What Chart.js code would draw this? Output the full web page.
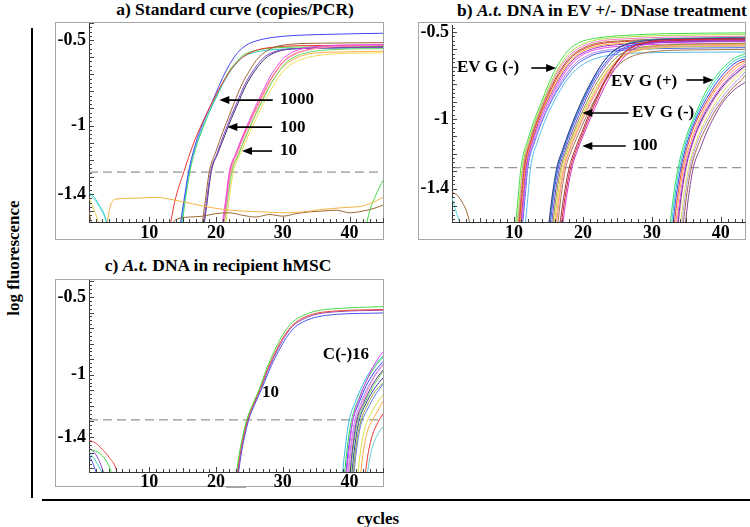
<!DOCTYPE html>
<html>
<head>
<meta charset="utf-8">
<script src="https://cdn.jsdelivr.net/npm/chart.js@4.4.1/dist/chart.umd.min.js"></script>
<style>
  body { margin: 0; width: 750px; height: 527px; background: #fff; position: relative; overflow: hidden;
         font-family: "Liberation Serif", "Times New Roman", serif; font-weight: bold; color: #000; }
  .frame { position: absolute; border: 1px solid #a6a6a6; box-sizing: border-box; }
  canvas { position: absolute; }
  .txt { position: absolute; white-space: nowrap; transform: translateX(-50%); line-height: 1; }
  .line { position: absolute; background: #000; }
</style>
</head>
<body>

<div class="txt" style="left:235px; top:1px; font-size:17.5px;">a) Standard curve (copies/PCR)</div>
<div class="txt" style="left:602px; top:2px; font-size:17.5px;">b) <i>A.t.</i> DNA in EV +/- DNase treatment</div>
<div class="txt" style="left:218px; top:257px; font-size:17.5px;">c) <i>A.t.</i> DNA in recipient hMSC</div>

<div class="txt" style="left:13px; top:258px; font-size:17px; transform:translate(-50%,-50%) rotate(-90deg);">log fluorescence</div>
<div class="line" style="left:31px; top:28px; width:2px; height:470px;"></div>
<div class="line" style="left:42px; top:499px; width:708px; height:2px;"></div>
<div class="txt" style="left:378px; top:510px; font-size:17px;">cycles</div>

<div class="frame" style="left:55px; top:22px; width:329px; height:218px;"></div>
<canvas id="chartA" width="329" height="218" style="left:55px; top:22px;"></canvas>

<div class="frame" style="left:418px; top:22px; width:328px; height:218px;"></div>
<canvas id="chartB" width="328" height="218" style="left:418px; top:22px;"></canvas>

<div class="frame" style="left:55px; top:279px; width:329px; height:208px;"></div>
<div style="position:absolute; left:226px; top:486px; width:20px; height:2px; background:#a6a6a6;"></div>
<canvas id="chartC" width="329" height="208" style="left:55px; top:279px;"></canvas>

<script>
// cycles shown on every panel
const xTicks = [10, 20, 30, 40];
const yTicks = [-0.5, -1, -1.4];

// ---- a) standard curve: [cycle, log fluorescence] ----
const a1000 = [
  [[13,-1.62],[13.8,-1.45],[15.2,-1.27],[16.5,-1.12],[18,-0.98],[19.5,-0.86],[21,-0.75],[22.5,-0.66],[24,-0.6],[26,-0.56],[29,-0.54],[34,-0.532],[45,-0.53]],
  [[14.5,-1.62],[15.2,-1.44],[15.9,-1.27],[17,-1.1],[18,-0.99],[19,-0.9],[20,-0.81],[21,-0.72],[22,-0.645],[23,-0.585],[24,-0.545],[25,-0.52],[27,-0.495],[30,-0.478],[35,-0.468],[45,-0.46]],
  [[14.7,-1.62],[15.3,-1.44],[16,-1.27],[17,-1.12],[18,-1.01],[19,-0.92],[20,-0.84],[21,-0.76],[22,-0.69],[23,-0.64],[24,-0.6],[26,-0.57],[29,-0.555],[35,-0.548],[45,-0.545]],
  [[14.8,-1.62],[15.4,-1.44],[16.1,-1.27],[17,-1.13],[18,-1.02],[19,-0.92],[20,-0.83],[21,-0.75],[22,-0.68],[23,-0.63],[24,-0.59],[26,-0.56],[29,-0.545],[35,-0.54],[45,-0.538]]
];
const a1000Colors = ['#ee3333', '#4444ee', '#33cccc', '#44dd44'];

const a100 = [
  [[17.8,-1.62],[18.4,-1.44],[19,-1.27],[20,-1.15],[21,-1.04],[22,-0.94],[23,-0.84],[24,-0.75],[25,-0.68],[26,-0.62],[27,-0.58],[28.5,-0.545],[31,-0.525],[36,-0.518],[45,-0.515]],
  [[18,-1.62],[18.6,-1.44],[19.2,-1.27],[20.2,-1.16],[21.2,-1.05],[22.2,-0.95],[23.2,-0.86],[24.2,-0.77],[25.2,-0.7],[26.2,-0.645],[27.2,-0.6],[29,-0.565],[32,-0.55],[38,-0.545],[45,-0.543]],
  [[18.1,-1.62],[18.7,-1.44],[19.3,-1.27],[20.3,-1.16],[21.3,-1.06],[22.3,-0.96],[23.3,-0.87],[24.3,-0.78],[25.3,-0.71],[26.3,-0.655],[27.3,-0.61],[29,-0.57],[32,-0.55],[38,-0.545],[45,-0.54]]
];
const a100Colors = ['#996633', '#8844cc', '#333366'];

const a10 = [
  [[20.8,-1.62],[21.4,-1.45],[22,-1.27],[23,-1.16],[24,-1.06],[25,-0.97],[26,-0.88],[27,-0.8],[28,-0.72],[29,-0.66],[30,-0.61],[31,-0.58],[33,-0.55],[36,-0.535],[45,-0.525]],
  [[21,-1.62],[21.6,-1.45],[22.2,-1.27],[23.2,-1.16],[24.2,-1.065],[25.2,-0.975],[26.2,-0.89],[27.2,-0.81],[28.2,-0.735],[29.2,-0.675],[30.2,-0.625],[31.5,-0.59],[33.5,-0.56],[37,-0.54],[45,-0.53]],
  [[20.9,-1.62],[21.5,-1.45],[22.1,-1.27],[23.1,-1.16],[24.1,-1.06],[25.1,-0.975],[26.1,-0.89],[27.1,-0.81],[28.1,-0.735],[29.1,-0.675],[30.1,-0.625],[31.3,-0.59],[33.3,-0.56],[37,-0.54],[45,-0.532]],
  [[21.1,-1.62],[21.7,-1.45],[22.4,-1.27],[23.4,-1.17],[24.4,-1.07],[25.4,-0.98],[26.4,-0.9],[27.4,-0.82],[28.4,-0.745],[29.4,-0.685],[30.4,-0.635],[31.7,-0.6],[34,-0.57],[38,-0.555],[45,-0.55]],
  [[21,-1.62],[21.6,-1.45],[22.3,-1.27],[23.3,-1.17],[24.3,-1.08],[25.3,-0.99],[26.3,-0.9],[27.3,-0.82],[28.3,-0.75],[29.3,-0.69],[30.5,-0.64],[32,-0.605],[34,-0.58],[38,-0.57],[45,-0.565]],
  [[21.3,-1.62],[21.9,-1.45],[22.6,-1.27],[23.6,-1.17],[24.6,-1.08],[25.6,-0.995],[26.6,-0.91],[27.6,-0.835],[28.6,-0.765],[29.6,-0.705],[30.8,-0.655],[32.3,-0.62],[34.5,-0.595],[38,-0.58],[45,-0.575]]
];
const a10Colors = ['#ee44ee', '#ff88cc', '#ff5533', '#66dd66', '#ffaa44', '#eedd55'];

const aBase = [
  [[3.6,-1.6],[4.2,-1.47],[5,-1.43],[8,-1.425],[11,-1.42],[13,-1.43],[15,-1.445],[18,-1.47],[21,-1.49],[24,-1.5],[27,-1.505],[30,-1.51],[33,-1.505],[36,-1.49],[39,-1.48],[42,-1.47],[44,-1.44],[45,-1.42]],
  [[13,-1.6],[14,-1.55],[16,-1.535],[18,-1.53],[20,-1.515],[22,-1.51],[24,-1.525],[26,-1.535],[28,-1.52],[30,-1.53],[32,-1.515],[34,-1.505],[36,-1.5],[38,-1.495],[40,-1.51],[42,-1.5],[44,-1.48],[45,-1.465]],
  [[42.3,-1.62],[43,-1.5],[44,-1.4],[45,-1.32]],
  [[1,-1.39],[1.8,-1.42],[2.6,-1.47],[3.3,-1.52],[3.9,-1.6]],
  [[1,-1.40],[1.8,-1.43],[2.6,-1.48],[3.3,-1.53],[3.8,-1.6]],
  [[1,-1.42],[1.6,-1.48],[2.2,-1.54],[2.6,-1.6]],
  [[1,-1.5],[1.3,-1.56],[1.6,-1.6]]
];
const aBaseColors = ['#f5b342', '#996633', '#44dd44', '#33cccc', '#66dddd', '#e6d34d', '#996633'];

// ---- b) EV +/- DNase ----
const bEarly = [
  [[10.2,-1.62],[10.6,-1.45],[11,-1.28],[12,-1.12],[13,-1.0],[14,-0.9],[15,-0.8],[16,-0.715],[17,-0.65],[18,-0.6],[19.5,-0.56],[22,-0.535],[26,-0.52],[32,-0.51],[45,-0.505]],
  [[10.4,-1.62],[10.8,-1.45],[11.2,-1.28],[12.2,-1.12],[13.2,-1.0],[14.2,-0.9],[15.2,-0.805],[16.2,-0.725],[17.2,-0.66],[18.2,-0.615],[19.7,-0.575],[22,-0.545],[26,-0.53],[32,-0.52],[45,-0.515]],
  [[10.5,-1.62],[10.9,-1.45],[11.3,-1.28],[12.3,-1.12],[13.3,-1.0],[14.3,-0.9],[15.3,-0.81],[16.3,-0.73],[17.3,-0.67],[18.3,-0.625],[19.8,-0.585],[22,-0.555],[26,-0.54],[32,-0.53],[45,-0.525]],
  [[10.6,-1.62],[11,-1.45],[11.4,-1.28],[12.4,-1.12],[13.4,-1.0],[14.4,-0.9],[15.4,-0.815],[16.4,-0.74],[17.4,-0.68],[18.4,-0.635],[19.9,-0.595],[22,-0.565],[26,-0.55],[32,-0.54],[45,-0.535]],
  [[10.7,-1.62],[11.1,-1.45],[11.5,-1.28],[12.5,-1.12],[13.5,-1.0],[14.5,-0.905],[15.5,-0.82],[16.5,-0.745],[17.5,-0.685],[18.5,-0.64],[20,-0.6],[22,-0.572],[26,-0.555],[32,-0.545],[45,-0.54]],
  [[10.8,-1.62],[11.2,-1.45],[11.6,-1.28],[12.6,-1.12],[13.6,-1.0],[14.6,-0.91],[15.6,-0.83],[16.6,-0.755],[17.6,-0.695],[18.6,-0.65],[20,-0.61],[22,-0.582],[26,-0.565],[32,-0.555],[45,-0.55]],
  [[10.9,-1.62],[11.3,-1.45],[11.7,-1.28],[12.7,-1.12],[13.7,-1.0],[14.7,-0.91],[15.7,-0.83],[16.7,-0.76],[17.7,-0.7],[18.7,-0.655],[20,-0.62],[22,-0.59],[26,-0.57],[32,-0.56],[45,-0.555]],
  [[11,-1.62],[11.4,-1.45],[11.8,-1.28],[12.8,-1.12],[13.8,-1.01],[14.8,-0.92],[15.8,-0.84],[16.8,-0.77],[17.8,-0.71],[18.8,-0.665],[20,-0.63],[22,-0.6],[26,-0.58],[32,-0.57],[45,-0.565]],
  [[11.1,-1.62],[11.5,-1.45],[11.9,-1.28],[12.9,-1.13],[13.9,-1.02],[14.9,-0.93],[15.9,-0.85],[16.9,-0.78],[17.9,-0.725],[18.9,-0.68],[20.2,-0.645],[22,-0.615],[26,-0.595],[32,-0.585],[45,-0.58]],
  [[11.2,-1.62],[11.6,-1.45],[12,-1.28],[13,-1.13],[14,-1.02],[15,-0.93],[16,-0.855],[17,-0.79],[18,-0.735],[19,-0.69],[20.3,-0.655],[22,-0.625],[26,-0.605],[32,-0.595],[45,-0.59]],
  [[11.6,-1.62],[12,-1.45],[12.4,-1.28],[13.4,-1.13],[14.4,-1.02],[15.4,-0.93],[16.4,-0.855],[17.4,-0.79],[18.4,-0.74],[19.5,-0.7],[21,-0.665],[23,-0.64],[26,-0.625],[32,-0.618],[45,-0.615]]
];
const bEarlyColors = ['#44dd44', '#aadd44', '#ff77cc', '#aa6633', '#ee3333', '#ffaa33', '#9933cc', '#ee44ee', '#aa88ee', '#4466ee', '#55bbee'];

const bMid = [
  [[15,-1.62],[15.5,-1.45],[16.2,-1.28],[17,-1.18],[18,-1.07],[19,-0.97],[20,-0.88],[21,-0.8],[22,-0.73],[23,-0.67],[24,-0.625],[25,-0.595],[27,-0.565],[30,-0.548],[36,-0.54],[45,-0.535]],
  [[15.1,-1.62],[15.6,-1.45],[16.3,-1.28],[17.1,-1.18],[18.1,-1.07],[19.1,-0.97],[20.1,-0.88],[21.1,-0.8],[22.1,-0.725],[23.1,-0.665],[24.1,-0.62],[25.1,-0.59],[27,-0.56],[30,-0.543],[36,-0.535],[45,-0.53]],
  [[15.2,-1.62],[15.7,-1.45],[16.4,-1.28],[17.2,-1.18],[18.2,-1.07],[19.2,-0.975],[20.2,-0.885],[21.2,-0.805],[22.2,-0.735],[23.2,-0.68],[24.2,-0.635],[25.2,-0.605],[27.2,-0.575],[30,-0.558],[36,-0.55],[45,-0.545]],
  [[15.4,-1.62],[15.9,-1.45],[16.6,-1.28],[17.4,-1.18],[18.4,-1.075],[19.4,-0.98],[20.4,-0.89],[21.4,-0.81],[22.4,-0.74],[23.4,-0.685],[24.4,-0.64],[25.4,-0.61],[27.4,-0.58],[30.5,-0.563],[36,-0.555],[45,-0.55]],
  [[15.6,-1.62],[16.1,-1.45],[16.8,-1.28],[17.6,-1.18],[18.6,-1.08],[19.6,-0.985],[20.6,-0.9],[21.6,-0.82],[22.6,-0.755],[23.6,-0.7],[24.6,-0.655],[25.6,-0.625],[27.6,-0.595],[31,-0.577],[36,-0.57],[45,-0.565]],
  [[15.8,-1.62],[16.3,-1.45],[17,-1.28],[17.8,-1.18],[18.8,-1.08],[19.8,-0.99],[20.8,-0.905],[21.8,-0.83],[22.8,-0.765],[23.8,-0.71],[24.8,-0.67],[25.8,-0.64],[27.8,-0.61],[31,-0.592],[36,-0.585],[45,-0.58]],
  [[16,-1.62],[16.5,-1.45],[17.2,-1.28],[18,-1.18],[19,-1.08],[20,-0.99],[21,-0.905],[22,-0.83],[23,-0.76],[24,-0.705],[25,-0.66],[26,-0.63],[28,-0.6],[31,-0.582],[36,-0.575],[45,-0.57]],
  [[16.1,-1.62],[16.6,-1.45],[17.3,-1.28],[18.1,-1.18],[19.1,-1.08],[20.1,-0.99],[21.1,-0.91],[22.1,-0.835],[23.1,-0.765],[24.1,-0.71],[25.1,-0.665],[26.1,-0.635],[28.1,-0.605],[31,-0.588],[36,-0.58],[45,-0.575]],
  [[16.3,-1.62],[16.8,-1.45],[17.5,-1.28],[18.3,-1.185],[19.3,-1.09],[20.3,-1.0],[21.3,-0.92],[22.3,-0.845],[23.3,-0.78],[24.3,-0.725],[25.3,-0.685],[26.3,-0.655],[28.3,-0.625],[31,-0.61],[36,-0.603],[45,-0.6]]
];
const bMidColors = ['#333399', '#339999', '#3355ff', '#7744cc', '#999933', '#ddcc44', '#ffaa55', '#ff88bb', '#aa7744'];

const b100 = [
  [[16.8,-1.62],[17.4,-1.45],[18.2,-1.28],[19,-1.18],[20,-1.08],[21,-0.98],[22,-0.89],[23,-0.8],[24,-0.73],[25,-0.67],[26,-0.62],[27,-0.59],[29,-0.56],[33,-0.545],[45,-0.54]],
  [[17,-1.62],[17.6,-1.45],[18.4,-1.28],[19.2,-1.18],[20.2,-1.08],[21.2,-0.985],[22.2,-0.895],[23.2,-0.81],[24.2,-0.74],[25.2,-0.68],[26.2,-0.635],[27.2,-0.6],[29.2,-0.57],[33,-0.555],[45,-0.55]],
  [[16.6,-1.62],[17.2,-1.45],[18,-1.28],[18.8,-1.18],[19.8,-1.08],[20.8,-0.98],[21.8,-0.89],[22.8,-0.805],[23.8,-0.735],[24.8,-0.675],[25.8,-0.625],[26.8,-0.595],[28.8,-0.565],[33,-0.55],[45,-0.545]]
];
const b100Colors = ['#dd2233', '#cc33cc', '#993344'];

const bLate = [
  [[32.6,-1.62],[33.1,-1.45],[33.8,-1.28],[35,-1.1],[36,-1.0],[37,-0.91],[38,-0.83],[39,-0.77],[40,-0.72],[41,-0.68],[42,-0.65],[43.5,-0.625]],
  [[32.8,-1.62],[33.3,-1.45],[34,-1.28],[35.2,-1.1],[36.2,-1.0],[37.2,-0.915],[38.2,-0.84],[39.2,-0.78],[40.2,-0.73],[41.2,-0.69],[42.2,-0.66],[43.5,-0.64]],
  [[33,-1.62],[33.5,-1.45],[34.2,-1.28],[35.4,-1.1],[36.4,-1.0],[37.4,-0.92],[38.4,-0.85],[39.4,-0.79],[40.4,-0.74],[41.4,-0.7],[42.4,-0.67],[43.5,-0.655]],
  [[33.2,-1.62],[33.7,-1.45],[34.4,-1.28],[35.6,-1.1],[36.6,-1.0],[37.6,-0.925],[38.6,-0.855],[39.6,-0.8],[40.6,-0.75],[41.6,-0.71],[42.6,-0.68],[43.5,-0.665]],
  [[33.4,-1.62],[33.9,-1.45],[34.6,-1.28],[35.8,-1.11],[36.8,-1.01],[37.8,-0.93],[38.8,-0.86],[39.8,-0.805],[40.8,-0.76],[41.8,-0.72],[42.8,-0.69],[43.5,-0.675]],
  [[33.6,-1.62],[34.1,-1.45],[34.8,-1.28],[36,-1.11],[37,-1.01],[38,-0.935],[39,-0.87],[40,-0.815],[41,-0.77],[42,-0.73],[43,-0.7],[43.5,-0.685]],
  [[33.7,-1.62],[34.2,-1.45],[34.9,-1.28],[36.1,-1.11],[37.1,-1.015],[38.1,-0.94],[39.1,-0.875],[40.1,-0.82],[41.1,-0.775],[42.1,-0.74],[43.5,-0.695]],
  [[33.8,-1.62],[34.3,-1.45],[35,-1.28],[36.2,-1.11],[37.2,-1.02],[38.2,-0.945],[39.2,-0.88],[40.2,-0.825],[41.2,-0.78],[42.2,-0.745],[43.5,-0.7]],
  [[34.1,-1.62],[34.6,-1.45],[35.3,-1.28],[36.5,-1.12],[37.5,-1.03],[38.5,-0.955],[39.5,-0.89],[40.5,-0.835],[41.5,-0.79],[42.5,-0.75],[43.5,-0.715]],
  [[34.3,-1.62],[34.8,-1.45],[35.5,-1.28],[36.7,-1.12],[37.7,-1.035],[38.7,-0.96],[39.7,-0.9],[40.7,-0.85],[41.7,-0.805],[42.7,-0.765],[43.5,-0.73]],
  [[34.5,-1.62],[35,-1.45],[35.7,-1.28],[36.9,-1.13],[37.9,-1.045],[38.9,-0.97],[39.9,-0.91],[40.9,-0.86],[41.9,-0.815],[42.9,-0.78],[43.5,-0.75]],
  [[34.8,-1.62],[35.3,-1.45],[36,-1.28],[37,-1.17],[38,-1.07],[39,-0.99],[40,-0.92],[41,-0.87],[42,-0.83],[43.5,-0.79]]
];
const bLateColors = ['#33dd66', '#33cccc', '#3344ee', '#ee4444', '#ffaa44', '#ee55ee', '#333388', '#ff99cc', '#dddd55', '#aa99ee', '#aa6644', '#884499'];

const bBase = [
  [[1,-1.42],[1.8,-1.44],[2.5,-1.48],[3.1,-1.53],[3.6,-1.6]],
  [[1,-1.45],[1.5,-1.52],[2,-1.58],[2.3,-1.62]]
];
const bBaseColors = ['#996633', '#55dddd'];

// ---- c) recipient hMSC ----
const c10 = [
  [[23,-1.65],[23.6,-1.48],[24.6,-1.29],[25.5,-1.19],[26.5,-1.09],[27.5,-0.97],[28.5,-0.87],[29.5,-0.78],[30.5,-0.71],[31.5,-0.66],[33,-0.62],[35,-0.59],[38,-0.575],[45,-0.562]],
  [[23.1,-1.65],[23.7,-1.48],[24.7,-1.29],[25.6,-1.19],[26.6,-1.09],[27.6,-0.975],[28.6,-0.88],[29.6,-0.795],[30.6,-0.725],[31.6,-0.675],[33,-0.635],[35,-0.605],[38,-0.59],[45,-0.58]],
  [[23.2,-1.65],[23.8,-1.48],[24.8,-1.29],[25.7,-1.19],[26.7,-1.09],[27.7,-0.98],[28.7,-0.885],[29.7,-0.8],[30.7,-0.73],[31.7,-0.68],[33.2,-0.64],[35,-0.612],[38,-0.595],[45,-0.585]],
  [[23.3,-1.65],[23.9,-1.48],[24.9,-1.29],[25.8,-1.19],[26.8,-1.095],[27.8,-0.99],[28.8,-0.895],[29.8,-0.815],[30.8,-0.745],[31.8,-0.695],[33.3,-0.655],[35.2,-0.628],[38,-0.612],[45,-0.603]]
];
const c10Colors = ['#44dd44', '#ee4444', '#9944aa', '#4455ee'];

const cNeg = [
  [[39.5,-1.65],[40,-1.45],[40.5,-1.29],[41.5,-1.15],[42.5,-1.04],[43.5,-0.95],[44.5,-0.88],[45,-0.854]],
  [[38.9,-1.65],[39.4,-1.45],[39.9,-1.3],[40.9,-1.17],[41.9,-1.07],[42.9,-0.99],[43.9,-0.93],[45,-0.88]],
  [[39.2,-1.65],[39.7,-1.45],[40.3,-1.29],[41.3,-1.16],[42.3,-1.06],[43.3,-0.98],[44.3,-0.92],[45,-0.89]],
  [[39.4,-1.65],[39.9,-1.45],[40.5,-1.29],[41.5,-1.17],[42.5,-1.07],[43.5,-0.995],[44.5,-0.94],[45,-0.915]],
  [[39.7,-1.65],[40.2,-1.45],[40.8,-1.29],[41.8,-1.17],[42.8,-1.075],[43.8,-1.0],[45,-0.93]],
  [[40,-1.65],[40.5,-1.45],[41.1,-1.29],[42.1,-1.18],[43.1,-1.09],[44.1,-1.02],[45,-0.97]],
  [[40.1,-1.65],[40.6,-1.45],[41.2,-1.3],[42.2,-1.19],[43.2,-1.1],[44.2,-1.03],[45,-0.98]],
  [[40.3,-1.65],[40.8,-1.45],[41.4,-1.3],[42.4,-1.19],[43.4,-1.11],[44.4,-1.05],[45,-1.02]],
  [[40.5,-1.65],[41,-1.45],[41.6,-1.31],[42.6,-1.2],[43.6,-1.12],[44.6,-1.07],[45,-1.05]],
  [[40.6,-1.65],[41.1,-1.46],[41.7,-1.32],[42.7,-1.22],[43.7,-1.14],[45,-1.06]],
  [[41.2,-1.65],[41.7,-1.47],[42.3,-1.34],[43.3,-1.24],[44.3,-1.17],[45,-1.13]],
  [[41.6,-1.65],[42.1,-1.48],[42.7,-1.36],[43.7,-1.27],[44.5,-1.21],[45,-1.17]],
  [[42.3,-1.65],[42.8,-1.5],[43.4,-1.39],[44.2,-1.31],[45,-1.25]],
  [[42.6,-1.65],[43.1,-1.52],[43.7,-1.43],[44.4,-1.37],[45,-1.335]],
  [[39.8,-1.65],[40.3,-1.45],[40.9,-1.3],[41.9,-1.18],[42.9,-1.08],[43.9,-1.0],[45,-0.94]]
];
const cNegColors = ['#ee44ee', '#33bbdd', '#33cc55', '#3344ee', '#aa88ee', '#6633aa', '#66dd44', '#3333aa', '#99aa33', '#5577dd', '#dddd44', '#ffaa44', '#ee3333', '#66cccc', '#ff88cc'];

const cBase = [
  [[1,-1.42],[2,-1.44],[3,-1.48],[4,-1.53],[5,-1.6],[5.3,-1.65]],
  [[1,-1.48],[2,-1.49],[3,-1.52],[3.8,-1.57],[4.4,-1.63]],
  [[1,-1.47],[1.8,-1.5],[2.6,-1.56],[3.2,-1.63]],
  [[1,-1.5],[1.8,-1.54],[2.6,-1.6],[3,-1.63]],
  [[1,-1.52],[1.5,-1.56],[2.1,-1.63]]
];
const cBaseColors = ['#ee4444', '#44dd44', '#8844cc', '#44cccc', '#4455ee'];

// thresholds (dashed line) and labels with arrows, in cycle / value units
const thresholds = { a: -1.272, b: -1.28, c: -1.29 };
const aNotes = [
  { text: '1000', x: 29.6, y: -0.851, from: 28.5, to: 20.5 },
  { text: '100', x: 29.6, y: -1.009, from: 28.4, to: 21.7 },
  { text: '10', x: 29.6, y: -1.149, from: 28.4, to: 23.9 }
];
const bNotes = [
  { text: 'EV G (-)', x: 1.72, y: -0.707, from: 12.5, to: 16.1 },
  { text: 'EV G (+)', x: 24.05, y: -0.787, from: 35.0, to: 38.9, ay: -0.776 },
  { text: 'EV G (-)', x: 27.1, y: -0.966, from: 26.6, to: 19.9 },
  { text: '100', x: 27.1, y: -1.155, from: 26.2, to: 19.9 }
];
const cNotes = [
  { text: 'C(-)16', x: 36.0, y: -0.873 },
  { text: '10', x: 26.9, y: -1.117 }
];

const tickFont = { family: '"Liberation Serif", "Times New Roman", serif', size: 18, weight: 'bold' };

// minor ticks inside the axes + arrow labels
const panelDecor = {
  id: 'panelDecor',
  afterDraw(chart, args, opts) {
    const { ctx, chartArea: a, scales: { x, y } } = chart;
    ctx.save();
    ctx.strokeStyle = '#444';
    ctx.lineWidth = 1;
    ctx.beginPath();
    for (let c = Math.ceil(x.min); c <= x.max; c++) {
      const px = Math.round(x.getPixelForValue(c)) + 0.5;
      const len = c % 10 === 0 ? 5 : (c % 5 === 0 ? 4 : 3);
      ctx.moveTo(px, a.bottom);
      ctx.lineTo(px, a.bottom - len);
    }
    for (let i = 0; i < 80; i++) {
      const v = -0.3 - i * 0.025;
      if (v > y.max || v < y.min) continue;
      const py = Math.round(y.getPixelForValue(v)) + 0.5;
      const len = i % 4 === 0 ? 5 : 3;
      ctx.moveTo(a.left, py);
      ctx.lineTo(a.left + len, py);
    }
    ctx.stroke();

    ctx.fillStyle = '#000';
    ctx.strokeStyle = '#000';
    ctx.lineWidth = 1.6;
    ctx.font = 'bold 17px "Liberation Serif", "Times New Roman", serif';
    ctx.textAlign = 'left';
    ctx.textBaseline = 'middle';
    (opts.notes || []).forEach(n => {
      ctx.fillText(n.text, x.getPixelForValue(n.x), y.getPixelForValue(n.y));
      if (n.from == null) return;
      const py = y.getPixelForValue(n.ay != null ? n.ay : n.y);
      const x1 = x.getPixelForValue(n.from);
      const x2 = x.getPixelForValue(n.to);
      const dir = Math.sign(x2 - x1);
      ctx.beginPath();
      ctx.moveTo(x1, py);
      ctx.lineTo(x2 - dir * 6, py);
      ctx.stroke();
      ctx.beginPath();
      ctx.moveTo(x2, py);
      ctx.lineTo(x2 - dir * 10, py - 4);
      ctx.lineTo(x2 - dir * 10, py + 4);
      ctx.closePath();
      ctx.fill();
    });
    ctx.restore();
  }
};

function makePanel(id, p) {
  const datasets = [];
  p.groups.forEach(g => {
    g.curves.forEach((pts, i) => {
      datasets.push({
        data: pts,
        borderColor: g.colors[i % g.colors.length],
        borderWidth: 1,
        pointRadius: 0,
        cubicInterpolationMode: 'monotone',
        clip: 0
      });
    });
  });
  datasets.push({
    data: [[p.xMin, p.threshold], [p.xMax, p.threshold]],
    borderColor: '#7a7a7a',
    borderWidth: 1,
    borderDash: [9, 5],
    pointRadius: 0,
    clip: 0
  });

  return new Chart(document.getElementById(id), {
    type: 'line',
    data: { datasets },
    options: {
      responsive: false,
      animation: false,
      events: [],
      layout: { padding: p.pad },
      plugins: {
        legend: { display: false },
        tooltip: { enabled: false },
        panelDecor: { notes: p.notes }
      },
      scales: {
        x: {
          type: 'linear',
          min: p.xMin,
          max: p.xMax,
          grid: { display: false, drawTicks: false },
          border: { color: '#333', width: 1 },
          afterBuildTicks: s => { s.ticks = xTicks.map(v => ({ value: v })); },
          afterFit: s => { s.height = p.xH; s.paddingLeft = 0; s.paddingRight = 0; },
          ticks: { color: '#000', font: tickFont, padding: p.xPad, maxRotation: 0, autoSkip: false, callback: v => String(v) }
        },
        y: {
          type: 'linear',
          min: p.yMin,
          max: p.yMax,
          grid: { display: false, drawTicks: false },
          border: { color: '#333', width: 1 },
          afterBuildTicks: s => { s.ticks = yTicks.map(v => ({ value: v })); },
          afterFit: s => { s.width = 34; s.paddingTop = 0; s.paddingBottom = 0; },
          ticks: { color: '#000', font: tickFont, padding: 3, autoSkip: false, callback: v => String(v) }
        }
      }
    },
    plugins: [panelDecor]
  });
}

makePanel('chartA', {
  groups: [
    { curves: aBase, colors: aBaseColors },
    { curves: a10, colors: a10Colors },
    { curves: a100, colors: a100Colors },
    { curves: a1000, colors: a1000Colors }
  ],
  notes: aNotes, threshold: thresholds.a,
  xMin: 1, xMax: 45, yMin: -1.564, yMax: -0.40,
  pad: { left: 0, top: 1, right: 1, bottom: 0 }, xH: 18, xPad: 1
});

makePanel('chartB', {
  groups: [
    { curves: bBase, colors: bBaseColors },
    { curves: bLate, colors: bLateColors },
    { curves: b100, colors: b100Colors },
    { curves: bMid, colors: bMidColors },
    { curves: bEarly, colors: bEarlyColors }
  ],
  notes: bNotes, threshold: thresholds.b,
  xMin: 1, xMax: 43.5, yMin: -1.592, yMax: -0.46,
  pad: { left: 0, top: 3, right: 1, bottom: 0 }, xH: 18, xPad: 1
});

makePanel('chartC', {
  groups: [
    { curves: cBase, colors: cBaseColors },
    { curves: cNeg, colors: cNegColors },
    { curves: c10, colors: c10Colors }
  ],
  notes: cNotes, threshold: thresholds.c,
  xMin: 1, xMax: 45, yMin: -1.625, yMax: -0.391,
  pad: { left: 0, top: 1, right: 1, bottom: 0 }, xH: 15, xPad: 0
});
</script>
</body>
</html>
